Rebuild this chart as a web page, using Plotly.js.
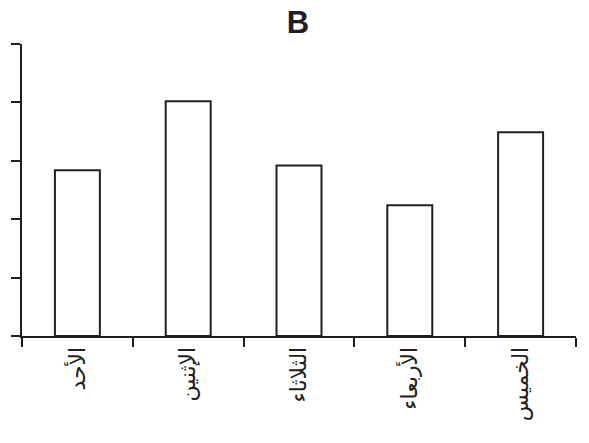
<!DOCTYPE html>
<html>
<head>
<meta charset="utf-8">
<script src="https://cdn.plot.ly/plotly-3.0.1.min.js"></script>
<style>html,body{margin:0;padding:0;background:#fff;}#chart{width:589px;height:443px;}</style>
</head>
<body>
<div id="chart"></div>
<script>
var categories = ["الأحد", "الإثنين", "الثلاثاء", "الأربعاء", "الخميس"];
var values = [2.84, 4.02, 2.92, 2.24, 3.49];
var yTicks = [0, 1, 2, 3, 4, 5];

var ink = "#231f20";
Plotly.newPlot("chart", [{
  type: "bar",
  x: categories,
  y: values,
  marker: {color: "#ffffff", line: {color: ink, width: 2}},
  hoverinfo: "none"
}], {
  width: 589, height: 443,
  margin: {l: 22, r: 13, t: 44, b: 107, pad: 0},
  paper_bgcolor: "#fff", plot_bgcolor: "#fff",
  bargap: 0.594,
  showlegend: false,
  title: {text: "<b>B</b>", font: {family: "Liberation Sans, Arial, sans-serif", size: 31, color: ink}, x: 0.506, xanchor: "center", y: 0.951, yanchor: "middle"},
  xaxis: {
    type: "category",
    showline: true, linecolor: ink, linewidth: 2,
    ticks: "outside", tickson: "boundaries", ticklen: 9, tickwidth: 2, tickcolor: ink,
    tickangle: -90,
    tickfont: {family: "DejaVu Sans, sans-serif", size: 22, color: ink},
    showgrid: false, zeroline: false, fixedrange: true
  },
  yaxis: {
    range: [0, 5],
    tickvals: yTicks, showticklabels: false,
    showline: true, linecolor: ink, linewidth: 2,
    ticks: "outside", ticklen: 9, tickwidth: 2, tickcolor: ink,
    showgrid: false, zeroline: false, fixedrange: true
  }
}, {displayModeBar: false, staticPlot: true});
</script>
</body>
</html>
